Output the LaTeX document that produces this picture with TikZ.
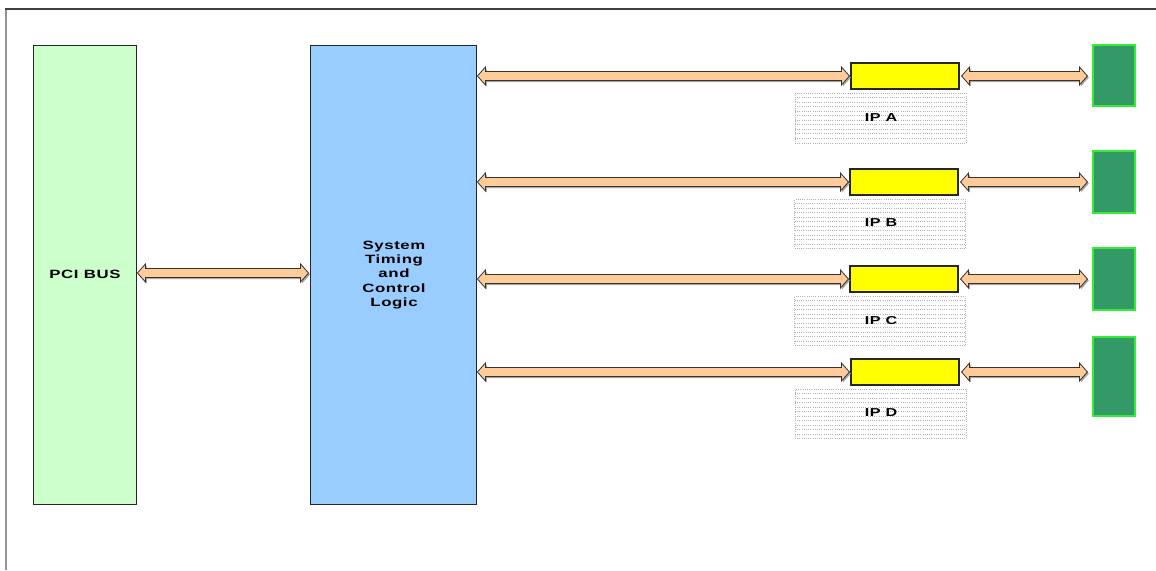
\documentclass[tikz,border=0pt]{standalone}
\usepackage{fontspec}
\setmainfont{Liberation Sans}
\newfontfamily\widefont[FakeStretch=1.4, LetterSpace=5]{Liberation Sans}
\usetikzlibrary{calc,shadows}
\definecolor{pcigreen}{HTML}{CCFFCC}
\definecolor{sysblue}{HTML}{99CCFF}
\definecolor{peach}{HTML}{FFCC99}
\definecolor{ipgreen}{HTML}{339966}
\definecolor{ipedge}{HTML}{33EE33}
\definecolor{ipyellow}{HTML}{FFFF00}
\newcommand{\apath}[3]{(#1,#3) -- ({#1+8pt},{#3+9pt}) -- ({#1+8pt},{#3+4.5pt}) -- ({#2-8pt},{#3+4.5pt}) -- ({#2-8pt},{#3+9pt}) -- (#2,#3) -- ({#2-8pt},{#3-9pt}) -- ({#2-8pt},{#3-4.5pt}) -- ({#1+8pt},{#3-4.5pt}) -- ({#1+8pt},{#3-9pt}) -- cycle}
\newcommand{\busarrow}[2]{%
  \fill[gray!70] let \p1=(#1), \p2=(#2) in \apath{\x1+1.5pt}{\x2+1.5pt}{\y1-1.5pt};
  \draw[busline] let \p1=(#1), \p2=(#2) in \apath{\x1}{\x2}{\y1};}
\tikzset{
  busline/.style={fill=peach, draw=black!80, line width=0.8pt, line join=miter},
  bigbox/.style={draw=black!85, line width=0.9pt, inner sep=0pt, font=\widefont\bfseries\fontsize{12}{14.2}\selectfont, align=center},
  ipbox/.style={draw=black!85, fill=ipyellow, line width=1.1pt, minimum width=108pt, minimum height=26pt, inner sep=0pt,
    drop shadow={shadow xshift=1.2pt, shadow yshift=-1.2pt, fill=gray!70, opacity=1}},
  dotline/.style={draw=gray!60, line width=0.5pt, dash pattern=on 0.6pt off 1.6pt},
  dotbox/.style={dotline, minimum width=171pt, minimum height=50pt, inner sep=0pt,
    path picture={\foreach \k in {1,...,10}{\draw[dotline] ($(path picture bounding box.north west)+(0,\k*4.5)$) -- ($(path picture bounding box.north east)+(0,\k*4.5)$);}}},
  iplabel/.style={font=\widefont\bfseries\fontsize{11.5}{12}\selectfont, inner sep=0pt},
  portbox/.style={draw=ipedge, fill=ipgreen, line width=1.2pt, minimum width=42pt, inner sep=0pt},
  framegray/.style={line width=2pt}
}
\begin{document}
\begin{tikzpicture}[x=1pt,y=-1pt]
\useasboundingbox (0,0) rectangle (1156,570);
\fill[white] (0,0) rectangle (1156,570);
% frame
\draw[framegray, draw=gray!85] (6,570) -- (6,9);
\draw[framegray, draw=black!75] (5,9) -- (1156,9);
% main boxes
\node[bigbox, fill=pcigreen, minimum width=103pt, minimum height=459pt] (pci) at (84.5,274.5) {};
\node[bigbox, fill=sysblue, minimum width=166pt, minimum height=459pt] (sys) at (393,274.5) {};
\node[bigbox, draw=none] (pcitext) at (85,274) {PCI BUS};
\node[bigbox, draw=none] (systext) at (394,275) {System\\Timing\\and\\Control\\Logic};
% IP yellow boxes
\node[ipbox] (ya) at (905,76) {};
\node[ipbox] (yb) at (904,182) {};
\node[ipbox] (yc) at (904,279) {};
\node[ipbox] (yd) at (905,372) {};
% dotted boxes
\node[dotbox] (da) at (880.5,118) {};
\node[dotbox, minimum height=49pt] (db) at (880,223.5) {};
\node[dotbox, minimum height=49pt] (dc) at (880,320.5) {};
\node[dotbox, minimum height=49pt] (dd) at (880.5,413.5) {};
\node[iplabel] (la) at (881,117.5) {IP A};
\node[iplabel] (lb) at (881,223) {IP B};
\node[iplabel] (lc) at (881,320.5) {IP C};
\node[iplabel] (ld) at (881,413) {IP D};
% green ports
\node[portbox, minimum height=61pt] (ga) at (1114,75.5) {};
\node[portbox, minimum height=62pt] (gb) at (1114,182) {};
\node[portbox, minimum height=62pt] (gc) at (1114,279) {};
\node[portbox, minimum height=79pt] (gd) at (1114,376.5) {};
% arrows
\busarrow{$(pci.east)+(1,-1.5)$}{$(sys.west)+(-1,-1.5)$}
\busarrow{$(sys.east|-ya.west)+(1,0)$}{$(ya.west)+(-1,0)$}
\busarrow{$(sys.east|-yb.west)+(1,0)$}{$(yb.west)+(-1,0)$}
\busarrow{$(sys.east|-yc.west)+(1,0)$}{$(yc.west)+(-1,0)$}
\busarrow{$(sys.east|-yd.west)+(1,0)$}{$(yd.west)+(-1,0)$}
\busarrow{$(ya.east)+(2,0)$}{$(ga.west|-ya.east)+(-5,0)$}
\busarrow{$(yb.east)+(2,0)$}{$(gb.west|-yb.east)+(-5,0)$}
\busarrow{$(yc.east)+(2,0)$}{$(gc.west|-yc.east)+(-5,0)$}
\busarrow{$(yd.east)+(2,0)$}{$(gd.west|-yd.east)+(-5,0)$}
\end{tikzpicture}
\end{document}
